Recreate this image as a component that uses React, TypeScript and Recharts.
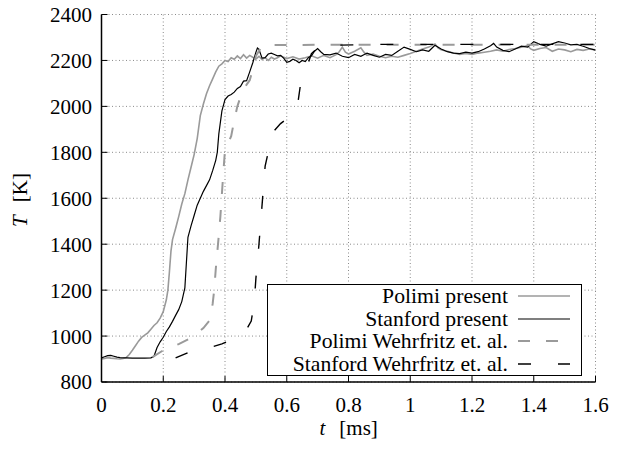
import React from 'react';
import { LineChart, Line, XAxis, YAxis, CartesianGrid, Legend } from 'recharts';

const FONT = '"Liberation Serif", "Times New Roman", serif';
const GRAY = '#9a9a9a';

const xTicks = [0, 0.2, 0.4, 0.6, 0.8, 1, 1.2, 1.4, 1.6];
const yTicks = [800, 1000, 1200, 1400, 1600, 1800, 2000, 2200, 2400];

// [t (ms), T (K)]
const polimiPresent: [number, number][] = [
  [0, 900], [0.01, 902], [0.02, 906], [0.03, 904], [0.04, 903], [0.05, 901], [0.06, 900], [0.07, 902],
  [0.08, 906], [0.09, 920], [0.1, 938], [0.11, 958], [0.12, 978], [0.13, 994], [0.14, 1004], [0.15, 1014],
  [0.16, 1030], [0.17, 1046], [0.18, 1058], [0.19, 1078], [0.2, 1106], [0.21, 1158], [0.215, 1200],
  [0.22, 1280], [0.225, 1370], [0.23, 1420], [0.24, 1468], [0.25, 1520], [0.26, 1575], [0.27, 1620],
  [0.28, 1680], [0.29, 1735], [0.3, 1790], [0.31, 1860], [0.32, 1960], [0.33, 2010], [0.34, 2055],
  [0.35, 2090], [0.36, 2120], [0.37, 2150], [0.38, 2175], [0.39, 2185], [0.4, 2200], [0.41, 2195],
  [0.42, 2212], [0.43, 2205], [0.44, 2220], [0.45, 2208], [0.46, 2225], [0.47, 2210], [0.48, 2222],
  [0.49, 2214], [0.5, 2206], [0.51, 2218], [0.52, 2204], [0.53, 2212], [0.54, 2200], [0.55, 2214],
  [0.56, 2206], [0.57, 2212], [0.58, 2220], [0.6, 2208], [0.62, 2216], [0.64, 2206], [0.66, 2212],
  [0.68, 2220], [0.7, 2210], [0.72, 2222], [0.74, 2212], [0.76, 2225], [0.77, 2238], [0.78, 2258],
  [0.79, 2236], [0.8, 2228], [0.82, 2240], [0.84, 2255], [0.85, 2236], [0.86, 2222], [0.88, 2228],
  [0.9, 2218], [0.92, 2212], [0.94, 2218], [0.96, 2214], [0.98, 2222], [1.0, 2230], [1.02, 2240],
  [1.04, 2250], [1.06, 2258], [1.08, 2272], [1.09, 2255], [1.1, 2246], [1.12, 2240], [1.14, 2232],
  [1.16, 2226], [1.18, 2230], [1.2, 2226], [1.22, 2232], [1.24, 2236], [1.26, 2240], [1.28, 2246],
  [1.3, 2240], [1.32, 2248], [1.34, 2252], [1.36, 2258], [1.38, 2264], [1.39, 2250], [1.4, 2244],
  [1.42, 2252], [1.44, 2256], [1.46, 2240], [1.48, 2250], [1.5, 2246], [1.52, 2238], [1.54, 2248],
  [1.56, 2244], [1.58, 2250], [1.6, 2246],
];

const stanfordPresent: [number, number][] = [
  [0, 905], [0.01, 910], [0.02, 915], [0.03, 916], [0.04, 912], [0.05, 908], [0.06, 906], [0.08, 905],
  [0.1, 904], [0.12, 904], [0.14, 904], [0.16, 905], [0.17, 912], [0.18, 950], [0.19, 975], [0.2, 995],
  [0.21, 1020], [0.22, 1040], [0.23, 1064], [0.24, 1090], [0.25, 1115], [0.26, 1150], [0.27, 1210],
  [0.275, 1320], [0.28, 1430], [0.29, 1480], [0.3, 1525], [0.31, 1570], [0.32, 1600], [0.33, 1630],
  [0.34, 1655], [0.35, 1680], [0.36, 1720], [0.37, 1765], [0.375, 1800], [0.38, 1880], [0.39, 1980],
  [0.4, 2030], [0.41, 2045], [0.42, 2052], [0.43, 2062], [0.44, 2078], [0.45, 2086], [0.46, 2110],
  [0.47, 2112], [0.48, 2150], [0.49, 2190], [0.5, 2235], [0.505, 2254], [0.51, 2248], [0.52, 2210],
  [0.53, 2212], [0.54, 2228], [0.55, 2232], [0.56, 2226], [0.57, 2220], [0.58, 2222], [0.59, 2210],
  [0.6, 2192], [0.61, 2196], [0.62, 2205], [0.63, 2200], [0.64, 2190], [0.65, 2200], [0.66, 2195],
  [0.67, 2212], [0.68, 2220], [0.69, 2240], [0.7, 2252], [0.71, 2238], [0.72, 2226], [0.74, 2224],
  [0.76, 2232], [0.78, 2218], [0.8, 2212], [0.82, 2226], [0.84, 2218], [0.86, 2232], [0.88, 2222],
  [0.9, 2214], [0.92, 2226], [0.94, 2222], [0.96, 2240], [0.98, 2258], [1.0, 2248], [1.02, 2238],
  [1.04, 2246], [1.06, 2240], [1.08, 2266], [1.1, 2250], [1.12, 2238], [1.14, 2232], [1.16, 2230],
  [1.18, 2236], [1.2, 2232], [1.22, 2238], [1.24, 2250], [1.26, 2264], [1.27, 2274], [1.28, 2258],
  [1.3, 2244], [1.32, 2238], [1.34, 2250], [1.36, 2262], [1.38, 2258], [1.4, 2282], [1.42, 2270],
  [1.44, 2262], [1.46, 2272], [1.48, 2282], [1.5, 2276], [1.52, 2268], [1.54, 2270], [1.56, 2262],
  [1.58, 2252], [1.6, 2245],
];

const polimiWehrfritz: [number, number][] = [
  [0.165, 908], [0.2, 938], [0.25, 965], [0.29, 992], [0.33, 1035], [0.35, 1068], [0.36, 1140],
  [0.365, 1200], [0.37, 1290], [0.38, 1440], [0.385, 1520], [0.39, 1620], [0.395, 1720], [0.4, 1810],
  [0.41, 1840], [0.42, 1870], [0.43, 1940], [0.44, 2000], [0.45, 2040], [0.46, 2070], [0.47, 2095],
  [0.48, 2114], [0.49, 2160], [0.5, 2220], [0.52, 2262], [0.55, 2267], [0.7, 2268], [0.9, 2268],
  [1.1, 2268], [1.3, 2268], [1.6, 2268],
];

const stanfordWehrfritz: [number, number][] = [
  [0.24, 905], [0.28, 928], [0.35, 950], [0.39, 966], [0.45, 1000], [0.47, 1030], [0.485, 1065],
  [0.495, 1150], [0.5, 1250], [0.51, 1400], [0.52, 1570], [0.53, 1740], [0.54, 1800], [0.55, 1840],
  [0.56, 1895], [0.58, 1925], [0.6, 1945], [0.62, 1965], [0.635, 2005], [0.645, 2100], [0.66, 2150],
  [0.67, 2190], [0.68, 2230], [0.7, 2255], [0.72, 2265], [0.9, 2270], [1.2, 2270], [1.6, 2270],
];

const toRows = (pairs: [number, number][]) => pairs.map(([t, T]) => ({ t, T }));

const series = [
  { name: 'Polimi present', data: toRows(polimiPresent), color: GRAY, width: 1.6, dash: undefined as string | undefined },
  { name: 'Stanford present', data: toRows(stanfordPresent), color: '#000', width: 1.2, dash: undefined as string | undefined },
  { name: 'Polimi Wehrfritz et. al.', data: toRows(polimiWehrfritz), color: GRAY, width: 2, dash: '12 16' },
  { name: 'Stanford Wehrfritz et. al.', data: toRows(stanfordWehrfritz), color: '#000', width: 1.4, dash: '13 27' },
];

const renderLegend = () => (
  <div
    style={{
      width: 313,
      height: 90,
      border: '1px solid #000',
      background: '#fff',
      fontFamily: FONT,
      fontSize: 21.7,
      color: '#000',
    }}
  >
    {series.map((s) => (
      <div key={s.name} style={{ display: 'flex', alignItems: 'center', height: 22.6 }}>
        <span style={{ width: 240, textAlign: 'right', whiteSpace: 'nowrap', lineHeight: '22px' }}>{s.name}</span>
        <svg width={63} height={22} style={{ display: 'block' }}>
          <line x1={10} x2={62} y1={11} y2={11} stroke={s.color} strokeWidth={s.width} strokeDasharray={s.dash} />
        </svg>
      </div>
    ))}
  </div>
);

const renderXLabel = (props: any) => {
  const vb = props.viewBox || {};
  const cx = vb.x + vb.width / 2;
  return (
    <text x={cx - 29} y={435} fontFamily={FONT} fontSize={21} fill="#000">
      <tspan fontStyle="italic">t</tspan>
      <tspan dx={14}>[ms]</tspan>
    </text>
  );
};

const renderYLabel = () => (
  <text
    x={27}
    y={200}
    transform="rotate(-90, 27, 200)"
    textAnchor="middle"
    fontFamily={FONT}
    fontSize={21}
    fill="#000"
  >
    <tspan fontStyle="italic">T</tspan>
    <tspan dx={13}>[K]</tspan>
  </text>
);

const emptyTick = () => <g />;

export default function App() {
  const tickStyle = { fill: '#000', fontSize: 21, fontFamily: FONT };
  return (
    <div style={{ margin: -8, width: 620, height: 451 }}>
      <LineChart width={620} height={451} margin={{ top: 14.5, right: 24.5, bottom: 0, left: 0 }}>
        <CartesianGrid stroke="#8a8a8a" strokeDasharray="1 2.5" />
        <XAxis
          dataKey="t"
          type="number"
          domain={[0, 1.6]}
          ticks={xTicks}
          interval={0}
          allowDataOverflow
          height={69}
          tickSize={-6}
          tickMargin={21}
          tick={tickStyle}
          axisLine={{ stroke: '#000', strokeWidth: 1.5 }}
          tickLine={{ stroke: '#000', strokeWidth: 1 }}
          label={renderXLabel}
        />
        <XAxis
          xAxisId="top"
          orientation="top"
          dataKey="t"
          type="number"
          domain={[0, 1.6]}
          ticks={xTicks}
          interval={0}
          allowDataOverflow
          height={0}
          tickSize={-6}
          tick={emptyTick}
          axisLine={{ stroke: '#000', strokeWidth: 1.5 }}
          tickLine={{ stroke: '#000', strokeWidth: 1 }}
        />
        <YAxis
          type="number"
          domain={[800, 2400]}
          ticks={yTicks}
          interval={0}
          allowDataOverflow
          width={101.5}
          tickSize={-6}
          tickMargin={15.5}
          tick={tickStyle}
          axisLine={{ stroke: '#000', strokeWidth: 1.5 }}
          tickLine={{ stroke: '#000', strokeWidth: 1 }}
          label={renderYLabel}
        />
        <YAxis
          yAxisId="right"
          orientation="right"
          type="number"
          domain={[800, 2400]}
          ticks={yTicks}
          interval={0}
          allowDataOverflow
          width={0}
          tickSize={-6}
          tick={emptyTick}
          axisLine={{ stroke: '#000', strokeWidth: 1.5 }}
          tickLine={{ stroke: '#000', strokeWidth: 1 }}
        />
        {series.map((s) => (
          <Line
            key={s.name}
            name={s.name}
            data={s.data}
            dataKey="T"
            type="linear"
            stroke={s.color}
            strokeWidth={s.width}
            strokeDasharray={s.dash}
            dot={false}
            activeDot={false}
            isAnimationActive={false}
          />
        ))}
        <Legend
          layout="vertical"
          align="center"
          verticalAlign="middle"
          content={renderLegend}
          wrapperStyle={{ left: 267, top: 284, width: 315, height: 92 }}
        />
      </LineChart>
    </div>
  );
}
